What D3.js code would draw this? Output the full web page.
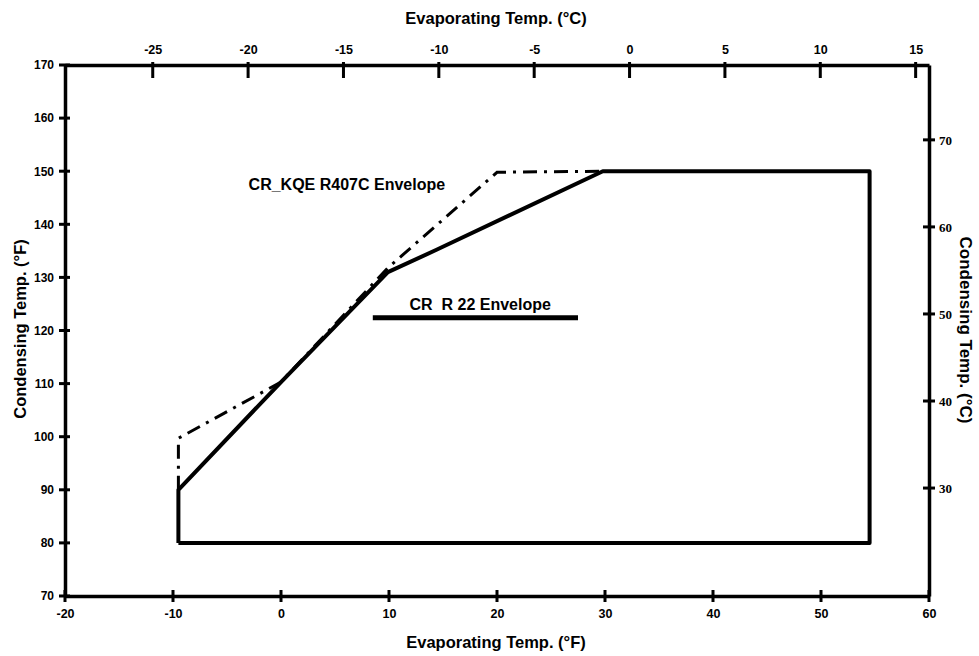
<!DOCTYPE html>
<html>
<head>
<meta charset="utf-8">
<script src="https://cdn.jsdelivr.net/npm/d3@7"></script>
<style>
  body { margin: 0; background: #fff; }
  svg { display: block; font-family: Arial, "Liberation Sans", sans-serif; font-weight: bold; }
  .tick text { font-weight: bold; }
</style>
</head>
<body>
<svg id="chart"></svg>
<script>
// evaporating temp (°F) / condensing temp (°F) pairs
const r22Envelope = [[-9.5, 80], [-9.5, 90], [0, 110.3], [9.9, 131], [14.4, 135.2], [29.8, 150], [54.5, 150], [54.5, 80], [-9.5, 80]];
const r407cEnvelope = [[-9.5, 90], [-9.5, 99.7], [0, 110.3], [9.9, 131.8], [20, 149.8], [29.8, 150]];

const bottomTicks = [-20, -10, 0, 10, 20, 30, 40, 50, 60];
const leftTicks = [70, 80, 90, 100, 110, 120, 130, 140, 150, 160, 170];
const topTicks = [-25, -20, -15, -10, -5, 0, 5, 10, 15];
const rightTicks = [30, 40, 50, 60, 70];

const r407cLabel = "CR_KQE R407C Envelope";
const r22Label = "CR  R 22 Envelope";

const W = 979, H = 656;
const margin = {top: 65, right: 50, bottom: 60, left: 65};

const svg = d3.select("#chart").attr("width", W).attr("height", H);

const x = d3.scaleLinear().domain([-20, 60]).range([margin.left, W - margin.right]);
const y = d3.scaleLinear().domain([70, 170]).range([H - margin.bottom, margin.top]);
// secondary °C scales fitted to where the original placed its ticks
const xC = d3.scaleLinear().domain([-29.6, 15.7]).range([margin.left, W - margin.right]);
const yC = d3.scaleLinear().domain([17.6, 78.6]).range([H - margin.bottom, margin.top]);

const fmt = d => String(d);

// axes (labels + domain from d3, tick marks drawn as small rects below)
const xAxisB = d3.axisBottom(x).tickValues(bottomTicks).tickFormat(fmt).tickSize(0).tickPadding(13);
const yAxisL = d3.axisLeft(y).tickValues(leftTicks).tickFormat(fmt).tickSize(0).tickPadding(11);
const xAxisT = d3.axisTop(xC).tickValues(topTicks).tickFormat(fmt).tickSize(0).tickPadding(11);
const yAxisR = d3.axisRight(yC).tickValues(rightTicks).tickFormat(fmt).tickSize(0).tickPadding(10);

function styleAxis(g, size, family) {
  g.select(".domain").attr("stroke", "#000").attr("stroke-width", 3.5);
  g.selectAll(".tick line").remove();
  g.selectAll(".tick text").attr("fill", "#000").attr("font-size", size).attr("font-family", family);
}

styleAxis(svg.append("g").attr("transform", `translate(0,${y(70)})`).call(xAxisB),
  12.5, "'Liberation Sans Narrow', Arial, sans-serif");
styleAxis(svg.append("g").attr("transform", `translate(${x(-20)},0)`).call(yAxisL),
  12, "Arial, 'Liberation Sans', sans-serif");
styleAxis(svg.append("g").attr("transform", `translate(0,${y(170)})`).call(xAxisT),
  12.5, "'Liberation Sans Narrow', Arial, sans-serif");
styleAxis(svg.append("g").attr("transform", `translate(${x(60)},0)`).call(yAxisR),
  13, "'Liberation Serif', 'Times New Roman', serif");

// tick marks
const marks = svg.append("g").attr("fill", "#000");
marks.selectAll("rect.tb").data(bottomTicks).join("rect").attr("class", "tb")
  .attr("x", d => x(d) - 1.5).attr("width", 3)
  .attr("y", y(70) - 6).attr("height", 12);
marks.selectAll("rect.tl").data(leftTicks).join("rect").attr("class", "tl")
  .attr("x", x(-20) - 6).attr("width", 11)
  .attr("y", d => y(d) - 1.5).attr("height", 3);
marks.selectAll("rect.tt").data(topTicks).join("rect").attr("class", "tt")
  .attr("x", d => xC(d) - 1.5).attr("width", 3)
  .attr("y", y(170) - 3).attr("height", 16);
marks.selectAll("rect.tr").data(rightTicks).join("rect").attr("class", "tr")
  .attr("x", x(60) - 6).attr("width", 12)
  .attr("y", d => yC(d) - 1.5).attr("height", 3);

// envelopes
const line = d3.line().x(d => x(d[0])).y(d => y(d[1]));

svg.append("path")
  .datum(r407cEnvelope)
  .attr("d", line)
  .attr("fill", "none")
  .attr("stroke", "#000")
  .attr("stroke-width", 3)
  .attr("stroke-dasharray", "14,7,3,7");

svg.append("path")
  .datum(r22Envelope)
  .attr("d", line)
  .attr("fill", "none")
  .attr("stroke", "#000")
  .attr("stroke-width", 4)
  .attr("stroke-linejoin", "round");

// labels
svg.append("text")
  .attr("x", x(-3)).attr("y", y(146.5))
  .attr("font-size", 16)
  .text(r407cLabel);

svg.append("text")
  .attr("x", x(11.9)).attr("y", y(123.9))
  .attr("font-size", 16)
  .style("white-space", "pre")
  .text(r22Label);

svg.append("line")
  .attr("x1", x(8.5)).attr("x2", x(27.5))
  .attr("y1", y(122.4)).attr("y2", y(122.4))
  .attr("stroke", "#000").attr("stroke-width", 5);

// axis titles
svg.append("text")
  .attr("x", 496).attr("y", 24)
  .attr("text-anchor", "middle").attr("font-size", 16.5)
  .text("Evaporating Temp. (°C)");

svg.append("text")
  .attr("x", 496).attr("y", 648)
  .attr("text-anchor", "middle").attr("font-size", 16.5)
  .text("Evaporating Temp. (°F)");

svg.append("text")
  .attr("transform", "translate(26,329) rotate(-90)")
  .attr("text-anchor", "middle").attr("font-size", 16.5)
  .text("Condensing Temp. (°F)");

svg.append("text")
  .attr("transform", "translate(960,330) rotate(90)")
  .attr("text-anchor", "middle").attr("font-size", 17)
  .text("Condensing Temp. (°C)");
</script>
</body>
</html>
